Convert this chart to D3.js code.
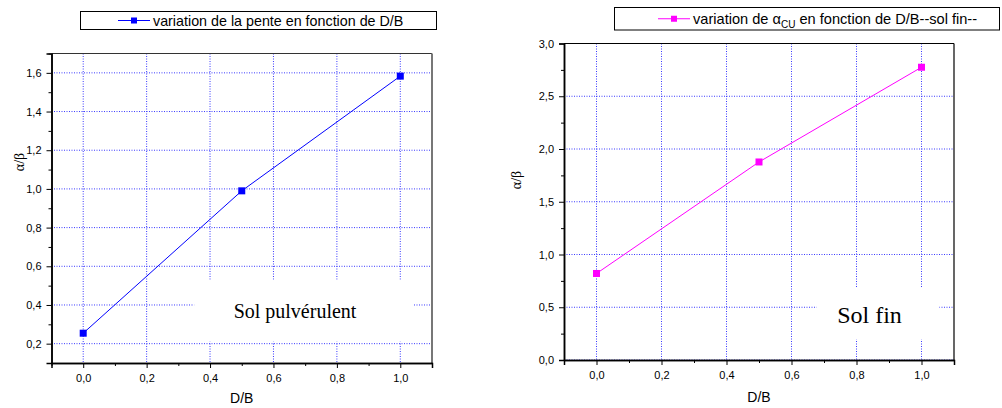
<!DOCTYPE html>
<html>
<head>
<meta charset="utf-8">
<script src="https://cdn.jsdelivr.net/npm/d3@7"></script>
<style>
  body { margin: 0; background: #fff; }
  svg { display: block; }
  text { font-family: "Liberation Sans", Arial, sans-serif; fill: #000; }
</style>
</head>
<body>
<svg width="1002" height="408"></svg>
<script>
// data
var xLeft = [0.0, 0.5, 1.0];
var yLeft = [0.254, 0.99, 1.583];
var xRight = [0.0, 0.5, 1.0];
var yRight = [0.82, 1.877, 2.775];

var xTicks = [0.0, 0.2, 0.4, 0.6, 0.8, 1.0];
var yTicksLeft = [0.2, 0.4, 0.6, 0.8, 1.0, 1.2, 1.4, 1.6];
var yTicksRight = [0.0, 0.5, 1.0, 1.5, 2.0, 2.5, 3.0];

var svg = d3.select("svg");
var comma = function(d) { return d3.format(".1f")(d).replace(".", ","); };

function drawChart(c) {
  var g = svg.append("g");
  var x = d3.scaleLinear().domain(c.xDomain).range([c.left, c.right]);
  var y = d3.scaleLinear().domain(c.yDomain).range([c.bottom, c.top]);

  // grid
  g.append("g").selectAll("line").data(xTicks).enter().append("line")
      .attr("x1", function(d) { return x(d); }).attr("x2", function(d) { return x(d); })
      .attr("y1", c.top).attr("y2", c.bottom)
      .attr("stroke", "#3a3aff").attr("stroke-width", 1).attr("stroke-dasharray", "1,1.5");
  g.append("g").selectAll("line").data(c.yTicks).enter().append("line")
      .attr("y1", function(d) { return y(d); }).attr("y2", function(d) { return y(d); })
      .attr("x1", c.left).attr("x2", c.right)
      .attr("stroke", "#3a3aff").attr("stroke-width", 1).attr("stroke-dasharray", "1,1.5");

  // annotation box hides the grid behind it
  var a = c.note;
  g.append("rect")
      .attr("x", x(a.x0)).attr("y", y(a.y1))
      .attr("width", x(a.x1) - x(a.x0)).attr("height", y(a.y0) - y(a.y1))
      .attr("fill", "#fff");
  g.append("text")
      .attr("x", x(a.tx)).attr("y", y(a.ty))
      .attr("text-anchor", "middle")
      .style("font-family", "'Liberation Serif', 'Times New Roman', serif")
      .style("font-size", a.size + "px")
      .text(a.text);

  // frame
  g.append("line").attr("x1", c.left).attr("x2", c.right).attr("y1", c.top).attr("y2", c.top)
      .attr("stroke", c.frameTop).attr("stroke-width", 1.2);
  g.append("line").attr("x1", c.right).attr("x2", c.right).attr("y1", c.top).attr("y2", c.bottom)
      .attr("stroke", c.frameRight).attr("stroke-width", c.frameRightW);

  // axes
  g.append("g").attr("transform", "translate(0," + c.bottom + ")")
      .call(d3.axisBottom(x).tickValues(xTicks).tickFormat(comma).tickSize(5).tickPadding(6));
  g.append("g").attr("transform", "translate(0," + c.bottom + ")")
      .call(d3.axisBottom(x).tickValues(d3.range(-0.1, 1.15, 0.2)).tickFormat("").tickSize(3).tickSizeOuter(0));
  g.append("g").attr("transform", "translate(" + c.left + ",0)")
      .call(d3.axisLeft(y).tickValues(c.yTicks).tickFormat(comma).tickSize(5).tickPadding(5));
  g.append("g").attr("transform", "translate(" + c.left + ",0)")
      .call(d3.axisLeft(y).tickValues(c.yMinor).tickFormat("").tickSize(3).tickSizeOuter(0));
  g.selectAll(".domain").attr("stroke", "#000").attr("stroke-width", 1.5);
  g.selectAll(".tick line").attr("stroke", "#000");
  g.selectAll(".tick text").style("font-size", "11px").attr("fill", "#000");

  // titles
  g.append("text")
      .attr("x", (c.left + c.right) / 2).attr("y", c.xTitleY)
      .attr("text-anchor", "middle").style("font-size", "14px").text("D/B");
  g.append("text")
      .attr("transform", "translate(" + c.yTitleX + "," + c.yTitleY + ") rotate(-90)")
      .attr("text-anchor", "middle")
      .style("font-family", "'Liberation Serif', 'Times New Roman', serif")
      .style("font-size", "14px").text("α/β");

  // series
  var pts = c.xs.map(function(d, i) { return [d, c.ys[i]]; });
  g.append("path").datum(pts)
      .attr("fill", "none").attr("stroke", c.color).attr("stroke-width", 1)
      .attr("d", d3.line().x(function(d) { return x(d[0]); }).y(function(d) { return y(d[1]); }));
  g.selectAll(".pt").data(pts).enter().append("rect")
      .attr("x", function(d) { return x(d[0]) - 3.5; })
      .attr("y", function(d) { return y(d[1]) - 3.5; })
      .attr("width", 7).attr("height", 7).attr("fill", c.color);

  // legend
  var L = c.legend;
  g.append("rect").attr("x", L.x).attr("y", L.y).attr("width", L.w).attr("height", L.h)
      .attr("fill", "#fff").attr("stroke", "#000").attr("stroke-width", 1);
  var ly = L.y + L.h / 2;
  g.append("line").attr("x1", L.sx).attr("x2", L.sx + 32).attr("y1", ly).attr("y2", ly)
      .attr("stroke", c.color).attr("stroke-width", 1);
  g.append("rect").attr("x", L.sx + 16 - 3).attr("y", ly - 3).attr("width", 6).attr("height", 6)
      .attr("fill", c.color);
  var lt = g.append("text").attr("x", L.sx + 35).attr("y", ly + 5).style("font-size", L.size + "px");
  L.parts.forEach(function(p) {
    var t = lt.append("tspan").text(p.t);
    if (p.sub) t.style("font-size", "10px").attr("dy", 4);
    if (p.up) t.attr("dy", -4);
  });
}

drawChart({
  xs: xLeft, ys: yLeft, color: "#0000ff",
  left: 51.5, right: 432, top: 53.5, bottom: 363,
  xDomain: [-0.1, 1.1], yDomain: [0.1, 1.7],
  yTicks: yTicksLeft, yMinor: d3.range(0.1, 1.75, 0.2),
  frameTop: "#333", frameRight: "#777", frameRightW: 2,
  xTitleY: 403, yTitleX: 24, yTitleY: 162,
  note: { x0: 0.35, x1: 1.04, y0: 0.21, y1: 0.53, tx: 0.668, ty: 0.333, size: 20, text: "Sol pulvérulent" },
  legend: { x: 80.5, y: 11.5, w: 356, h: 18, sx: 118, size: 14.3,
    parts: [{ t: "variation de la pente en fonction de D/B" }] }
});

drawChart({
  xs: xRight, ys: yRight, color: "#ff00ff",
  left: 564, right: 954, top: 43.5, bottom: 360,
  xDomain: [-0.1, 1.1], yDomain: [0, 3],
  yTicks: yTicksRight, yMinor: d3.range(0.25, 3, 0.5),
  frameTop: "#000", frameRight: "#000", frameRightW: 1.2,
  xTitleY: 402, yTitleX: 521, yTitleY: 180,
  note: { x0: 0.677, x1: 1.055, y0: 0.194, y1: 0.687, tx: 0.84, ty: 0.355, size: 24, text: "Sol fin" },
  legend: { x: 614.5, y: 7.5, w: 385, h: 22.5, sx: 658, size: 14.6,
    parts: [{ t: "variation de " }, { t: "α" }, { t: "CU", sub: true }, { t: " en fonction de D/B--sol fin--", up: true }] }
});
</script>
</body>
</html>
